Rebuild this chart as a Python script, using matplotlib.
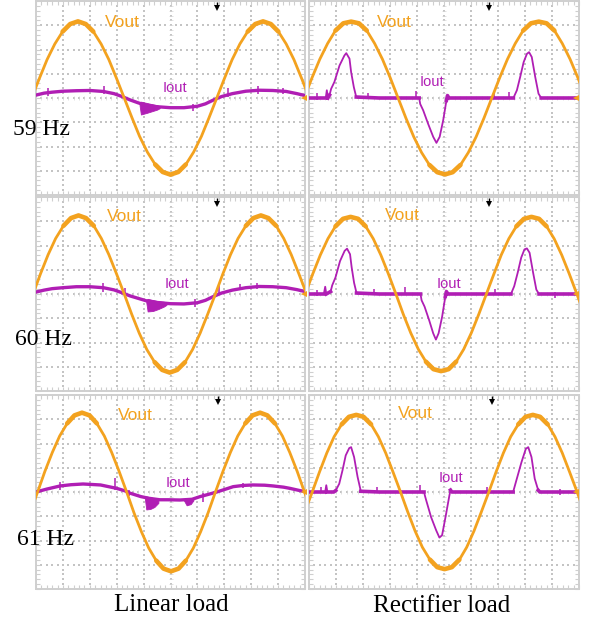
import numpy as np
import matplotlib
matplotlib.use("Agg")
import matplotlib.pyplot as plt

W, H, DPI = 589, 617, 100

ORANGE = "#F3A21F"
PURPLE = "#B01EB4"
GRID = "#C4C4C4"
FRAME = "#CFCFCF"

# ---------------- waveforms (time and amplitude in scope divisions) ----------------
# Vout, linear load
v59_lin_t = [-0.16, 0.13, 0.41, 0.70, 0.99, 1.27, 1.56, 1.85, 2.13, 2.42, 2.71, 2.99, 3.28, 3.57, 3.85, 4.14, 4.43, 4.71, 5.00,
             5.29, 5.57, 5.86, 6.15, 6.43, 6.72, 7.01, 7.29, 7.58, 7.87, 8.15, 8.44, 8.73, 9.01, 9.30, 9.59, 9.87, 10.16]
v59_lin_v = [0.00, 0.82, 1.58, 2.23, 2.74, 3.05, 3.16, 3.05, 2.74, 2.23, 1.58, 0.82, 0.00, -0.82, -1.58, -2.23, -2.74, -3.05, -3.16,
             -3.05, -2.74, -2.23, -1.58, -0.82, 0.00, 0.82, 1.58, 2.23, 2.74, 3.05, 3.16, 3.05, 2.74, 2.23, 1.58, 0.82, 0.00]
v60_lin_t = [-0.11, 0.17, 0.45, 0.73, 1.02, 1.30, 1.58, 1.86, 2.15, 2.43, 2.71, 2.99, 3.28, 3.56, 3.84, 4.12, 4.41, 4.69, 4.97,
             5.25, 5.54, 5.82, 6.10, 6.38, 6.67, 6.95, 7.23, 7.51, 7.80, 8.08, 8.36, 8.64, 8.93, 9.21, 9.49, 9.77, 10.06]
v60_lin_v = [0.00, 0.84, 1.62, 2.29, 2.81, 3.13, 3.24, 3.13, 2.81, 2.29, 1.62, 0.84, 0.00, -0.84, -1.62, -2.29, -2.81, -3.13, -3.24,
             -3.13, -2.81, -2.29, -1.62, -0.84, 0.00, 0.84, 1.62, 2.29, 2.81, 3.13, 3.24, 3.13, 2.81, 2.29, 1.62, 0.84, 0.00]
v61_lin_t = [-0.22, 0.06, 0.33, 0.61, 0.88, 1.16, 1.43, 1.71, 1.99, 2.26, 2.54, 2.81, 3.09, 3.37, 3.64, 3.92, 4.19, 4.47, 4.74, 5.02,
             5.30, 5.57, 5.85, 6.12, 6.40, 6.67, 6.95, 7.23, 7.50, 7.78, 8.05, 8.33, 8.60, 8.88, 9.16, 9.43, 9.71, 9.98, 10.26]
v61_lin_v = [-0.85, 0.00, 0.85, 1.64, 2.31, 2.83, 3.16, 3.27, 3.16, 2.83, 2.31, 1.64, 0.85, 0.00, -0.85, -1.64, -2.31, -2.83, -3.16, -3.27,
             -3.16, -2.83, -2.31, -1.64, -0.85, 0.00, 0.85, 1.64, 2.31, 2.83, 3.16, 3.27, 3.16, 2.83, 2.31, 1.64, 0.85, 0.00, -0.85]

# Vout, rectifier load
v59_rect_t = [-0.18, 0.11, 0.40, 0.69, 0.98, 1.27, 1.56, 1.85, 2.14, 2.43, 2.72, 3.01, 3.30, 3.59, 3.88, 4.17, 4.46, 4.75, 5.04,
              5.32, 5.61, 5.90, 6.19, 6.48, 6.77, 7.06, 7.35, 7.64, 7.93, 8.22, 8.51, 8.80, 9.09, 9.38, 9.67, 9.96, 10.25]
v59_rect_v = [0.00, 0.83, 1.60, 2.25, 2.78, 3.08, 3.15, 3.08, 2.78, 2.25, 1.60, 0.83, 0.00, -0.83, -1.60, -2.25, -2.76, -3.06, -3.15,
              -3.06, -2.76, -2.25, -1.60, -0.83, 0.00, 0.83, 1.60, 2.25, 2.78, 3.08, 3.15, 3.08, 2.78, 2.25, 1.60, 0.83, 0.00]
v60_rect_t = [-0.14, 0.14, 0.42, 0.70, 0.98, 1.26, 1.54, 1.82, 2.10, 2.38, 2.66, 2.94, 3.22, 3.49, 3.77, 4.05, 4.33, 4.61, 4.89,
              5.17, 5.45, 5.73, 6.01, 6.29, 6.57, 6.85, 7.12, 7.40, 7.68, 7.96, 8.24, 8.52, 8.80, 9.08, 9.36, 9.64, 9.92, 10.20]
v60_rect_v = [0.00, 0.83, 1.61, 2.28, 2.79, 3.10, 3.18, 3.10, 2.79, 2.28, 1.61, 0.83, 0.00, -0.83, -1.61, -2.28, -2.79, -3.10, -3.18,
              -3.10, -2.79, -2.28, -1.61, -0.83, 0.00, 0.83, 1.61, 2.28, 2.79, 3.10, 3.18, 3.10, 2.79, 2.28, 1.61, 0.83, 0.00, -0.83]
v61_rect_t = [-0.16, 0.12, 0.39, 0.66, 0.93, 1.21, 1.48, 1.75, 2.02, 2.30, 2.57, 2.84, 3.11, 3.39, 3.66, 3.93, 4.20, 4.48, 4.75, 5.02,
              5.29, 5.57, 5.84, 6.11, 6.38, 6.66, 6.93, 7.20, 7.47, 7.75, 8.02, 8.29, 8.56, 8.84, 9.11, 9.38, 9.65, 9.93, 10.20]
v61_rect_v = [-0.83, 0.00, 0.83, 1.61, 2.28, 2.79, 3.10, 3.18, 3.10, 2.79, 2.28, 1.61, 0.83, 0.00, -0.83, -1.61, -2.28, -2.79, -3.10, -3.18,
              -3.10, -2.79, -2.28, -1.61, -0.83, 0.00, 0.83, 1.61, 2.28, 2.79, 3.10, 3.18, 3.10, 2.79, 2.28, 1.61, 0.83, 0.00, -0.83]

# Iout, linear load
i59_lin_t = [0.0, 0.3, 0.6, 1.0, 1.5, 2.0, 2.5, 2.9, 3.2, 3.5, 3.8, 4.1, 4.5, 5.0, 5.5, 6.0, 6.3, 6.6, 6.9, 7.3, 7.8, 8.3, 8.8, 9.3, 9.7, 10.0]
i59_lin_v = [0.12, 0.20, 0.24, 0.28, 0.30, 0.31, 0.27, 0.18, 0.06, -0.08, -0.20, -0.30, -0.36, -0.40, -0.40, -0.34, -0.24, -0.08, 0.06,
             0.18, 0.28, 0.32, 0.31, 0.27, 0.18, 0.10]
i60_lin_t = [0.0, 0.3, 0.6, 1.0, 1.5, 2.0, 2.5, 2.9, 3.2, 3.5, 3.8, 4.1, 4.5, 5.0, 5.5, 6.0, 6.3, 6.6, 6.9, 7.3, 7.8, 8.3, 8.8, 9.3, 9.7, 10.0]
i60_lin_v = [0.08, 0.16, 0.22, 0.26, 0.30, 0.30, 0.26, 0.17, 0.05, -0.08, -0.18, -0.28, -0.35, -0.40, -0.41, -0.36, -0.26, -0.10, 0.04,
             0.16, 0.26, 0.31, 0.30, 0.26, 0.18, 0.10]
i61_lin_t = [0.0, 0.4, 0.9, 1.3, 1.75, 2.4, 3.0, 3.3, 3.5, 3.9, 4.2, 4.6, 4.9, 5.35, 5.8, 6.1, 6.4, 6.72, 7.0, 7.33, 7.7, 8.07, 8.5,
             8.81, 9.2, 9.44, 9.8, 10.0]
i61_lin_v = [0.0, 0.12, 0.25, 0.30, 0.33, 0.29, 0.15, 0.05, -0.05, -0.19, -0.26, -0.32, -0.32, -0.33, -0.30, -0.19, -0.10, 0.0, 0.10,
             0.22, 0.27, 0.29, 0.28, 0.25, 0.20, 0.15, 0.06, 0.02]

# Iout, rectifier load
i59_rect_t = [0.0, 0.62, 0.66, 0.70, 0.76, 0.82, 0.94, 1.13, 1.31, 1.38, 1.50, 1.56, 1.66, 1.75, 2.6, 3.4, 4.08, 4.12, 4.23, 4.41,
              4.60, 4.72, 4.84, 4.97, 5.09, 5.13, 5.18, 6.0, 7.0, 7.57, 7.70, 7.82, 7.95, 8.07, 8.15, 8.25, 8.38, 8.50, 8.60, 9.4, 10.0]
i59_rect_v = [0.0, 0.0, 0.32, 0.0, 0.12, 0.38, 0.66, 1.34, 1.75, 1.85, 1.62, 1.07, 0.45, 0.04, 0.0, 0.0, 0.0, -0.25, -0.51, -1.06,
              -1.60, -1.85, -1.60, -0.92, -0.10, 0.10, 0.0, 0.0, 0.0, 0.0, 0.32, 0.86, 1.48, 1.82, 1.89, 1.69, 0.86, 0.18, 0.0, 0.0, 0.0]
i60_rect_t = [0.0, 0.55, 0.60, 0.64, 0.80, 0.86, 0.98, 1.15, 1.32, 1.41, 1.52, 1.58, 1.67, 1.76, 2.6, 3.4, 4.13, 4.17, 4.28, 4.45,
              4.60, 4.70, 4.80, 4.93, 5.05, 5.09, 5.14, 6.0, 7.0, 7.48, 7.60, 7.73, 7.86, 7.98, 8.07, 8.17, 8.30, 8.42, 8.52, 9.4, 10.0]
i60_rect_v = [0.0, 0.0, 0.30, 0.0, 0.10, 0.36, 0.68, 1.36, 1.78, 1.87, 1.64, 1.10, 0.46, 0.04, 0.0, 0.0, 0.0, -0.26, -0.52, -1.08,
              -1.62, -1.88, -1.62, -0.94, -0.10, 0.10, 0.0, 0.0, 0.0, 0.0, 0.32, 0.88, 1.50, 1.84, 1.88, 1.70, 0.88, 0.18, 0.0, 0.0, 0.0]
i61_rect_t = [0.0, 0.6, 0.64, 0.68, 0.92, 0.99, 1.12, 1.24, 1.36, 1.49, 1.56, 1.67, 1.80, 1.92, 2.6, 3.4, 4.26, 4.30, 4.34, 4.52,
              4.71, 4.83, 4.93, 5.08, 5.20, 5.24, 5.29, 6.0, 7.0, 7.56, 7.68, 7.87, 8.03, 8.12, 8.24, 8.36, 8.49, 8.55, 9.4, 10.0]
i61_rect_v = [0.0, 0.0, 0.28, 0.0, 0.0, 0.06, 0.34, 0.89, 1.51, 1.81, 1.85, 1.44, 0.62, 0.03, 0.0, 0.0, 0.0, -0.18, -0.34, -1.03,
              -1.58, -1.88, -1.78, -0.89, -0.14, 0.08, 0.0, 0.0, 0.0, 0.0, 0.48, 1.23, 1.78, 1.85, 1.44, 0.55, 0.07, 0.0, 0.0, 0.0]

# Burst of switching noise on the linear-load current (time, lower edge, upper edge)
burst59_t = [3.85, 3.90, 4.10, 4.30, 4.50, 4.60]
burst59_lo = [-0.30, -0.68, -0.62, -0.55, -0.48, -0.42]
burst59_hi = [-0.20, -0.15, -0.20, -0.25, -0.30, -0.34]
burst60_t = [4.10, 4.15, 4.35, 4.55, 4.75, 4.85]
burst60_lo = [-0.35, -0.72, -0.70, -0.62, -0.52, -0.45]
burst60_hi = [-0.25, -0.20, -0.25, -0.30, -0.32, -0.36]
burst61_t = [4.05, 4.10, 4.25, 4.40, 4.55, 5.50, 5.60, 5.75, 5.85]
burst61_lo = [-0.30, -0.72, -0.70, -0.62, -0.45, -0.35, -0.55, -0.50, -0.35]
burst61_hi = [-0.20, -0.18, -0.22, -0.26, -0.30, -0.30, -0.30, -0.30, -0.28]
burst61_gap = 5  # index where the second burst starts

# Isolated spikes (time, low, high)
spk59_lin = [(0.45, 0.10, 0.42), (2.53, 0.15, 0.48), (5.84, -0.55, -0.25), (7.14, 0.05, 0.42), (8.25, 0.18, 0.48), (9.2, 0.18, 0.40)]
spk60_lin = [(2.50, 0.10, 0.45), (3.30, -0.10, 0.25), (5.90, -0.55, -0.20), (6.80, 0.05, 0.35), (7.60, 0.15, 0.42), (8.2, 0.20, 0.45)]
spk61_lin = [(0.89, 0.10, 0.42), (2.94, 0.10, 0.56), (3.45, -0.15, 0.10), (6.22, -0.42, -0.05), (7.70, 0.15, 0.38)]
spk59_rect = [(0.30, -0.10, 0.20), (2.20, -0.05, 0.22), (3.95, 0.00, 0.30), (6.84, -0.05, 0.20), (7.40, 0.00, 0.25)]
spk60_rect = [(0.30, -0.08, 0.18), (2.40, -0.05, 0.20), (3.55, 0.00, 0.28), (6.90, -0.05, 0.22), (9.10, -0.15, 0.10)]
spk61_rect = [(0.45, -0.05, 0.22), (2.50, -0.05, 0.20), (4.10, 0.00, 0.30), (6.60, -0.05, 0.22), (9.30, -0.12, 0.12)]

row_labels = ["59 Hz", "60 Hz", "61 Hz"]
col_labels = ["Linear load", "Rectifier load"]

# ---------------- layout (pixels) ----------------
cols_px = [(36, 305), (309, 579)]
rows_px = [(1, 195), (197, 391), (395, 589)]

fig = plt.figure(figsize=(W / DPI, H / DPI), dpi=DPI)
fig.patch.set_facecolor("white")


def px_text(x, y, s, **kw):
    fig.text(x / W, 1 - y / H, s, **kw)


def scope_axes(col, row):
    x0, x1 = cols_px[col]
    y0, y1 = rows_px[row]
    ax = fig.add_axes([x0 / W, 1 - y1 / H, (x1 - x0) / W, (y1 - y0) / H])
    ax.set_xlim(0, 10)
    ax.set_ylim(-4, 4)
    ax.set_facecolor("white")
    for sp in ax.spines.values():
        sp.set_color(FRAME)
        sp.set_linewidth(1.4)
    ax.set_xticks(np.arange(0, 11, 1))
    ax.set_yticks(np.arange(-4, 5, 1))
    ax.set_xticks(np.arange(0, 10.01, 0.2), minor=True)
    ax.set_yticks(np.arange(-4, 4.01, 0.2), minor=True)
    ax.tick_params(which="both", direction="in", length=3, width=0.8, color=FRAME,
                   top=True, right=True, labelbottom=False, labelleft=False)
    # dotted graticule
    ys = np.arange(-4, 4.01, 0.2)
    xs = np.arange(0, 10.01, 0.2)
    gx = np.repeat(np.arange(1, 10), len(ys))
    gy = np.tile(ys, 9)
    ax.scatter(gx, gy, s=1.2, marker="s", color=GRID, lw=0, zorder=1)
    hy = np.repeat(np.arange(-3, 4), len(xs))
    hx = np.tile(xs, 7)
    ax.scatter(hx, hy, s=1.2, marker="s", color=GRID, lw=0, zorder=1)
    # faint centre-line tick marks
    ax.plot(np.full(len(ys), 5.0), ys, ls="none", marker="_", ms=2.5, mew=0.5, color="#D6D6D6", zorder=1)
    ax.plot(xs, np.zeros(len(xs)), ls="none", marker="|", ms=2.5, mew=0.5, color="#D6D6D6", zorder=1)
    return ax


def draw_vout(ax, t, v):
    t = np.asarray(t)
    v = np.asarray(v)
    ax.plot(t, v, color=ORANGE, lw=2.0, solid_joinstyle="round", solid_capstyle="round", zorder=4)
    peak = np.where(np.abs(v) > 2.7, v, np.nan)
    ax.plot(t, peak, color=ORANGE, lw=3.3, solid_capstyle="round", zorder=4)


def draw_iout_linear(ax, t, v, spikes, bursts):
    ax.plot(t, v, color=PURPLE, lw=2.4, solid_joinstyle="round", zorder=3)
    for bt, lo, hi in bursts:
        ax.fill_between(bt, lo, hi, color=PURPLE, lw=0.6, zorder=3)
    for s in spikes:
        ax.vlines(s[0], s[1], s[2], color=PURPLE, lw=1.1, zorder=3)


def draw_iout_rect(ax, t, v, spikes):
    t = np.asarray(t)
    v = np.asarray(v)
    ax.plot(t, v, color=PURPLE, lw=1.3, solid_joinstyle="round", zorder=3)
    base = np.where(np.abs(v) <= 0.12, v, np.nan)
    ax.plot(t, base, color=PURPLE, lw=2.6, zorder=3)
    for s in spikes:
        ax.vlines(s[0], s[1], s[2], color=PURPLE, lw=1.1, zorder=3)


def trigger_mark(ax, x):
    ax.vlines(x, 3.72, 3.97, color="black", lw=1.0, clip_on=False, zorder=6)
    ax.plot([x], [3.72], marker="v", ms=4, color="black", mew=0, clip_on=False, zorder=6)


def ground_marks(ax):
    ax.plot([-0.2], [0], marker="<", ms=4, color=ORANGE, mew=0, clip_on=False, zorder=6)
    ax.plot([9.9], [0], marker="<", ms=4, color=ORANGE, mew=0, clip_on=False, zorder=6)


vout_lin = [(v59_lin_t, v59_lin_v), (v60_lin_t, v60_lin_v), (v61_lin_t, v61_lin_v)]
vout_rect = [(v59_rect_t, v59_rect_v), (v60_rect_t, v60_rect_v), (v61_rect_t, v61_rect_v)]
iout_lin = [(i59_lin_t, i59_lin_v), (i60_lin_t, i60_lin_v), (i61_lin_t, i61_lin_v)]
iout_rect = [(i59_rect_t, i59_rect_v), (i60_rect_t, i60_rect_v), (i61_rect_t, i61_rect_v)]
spk_lin = [spk59_lin, spk60_lin, spk61_lin]
spk_rect = [spk59_rect, spk60_rect, spk61_rect]
bursts = [
    [(burst59_t, burst59_lo, burst59_hi)],
    [(burst60_t, burst60_lo, burst60_hi)],
    [(burst61_t[:burst61_gap], burst61_lo[:burst61_gap], burst61_hi[:burst61_gap]),
     (burst61_t[burst61_gap:], burst61_lo[burst61_gap:], burst61_hi[burst61_gap:])],
]

trig_lin = [6.73, 6.73, 6.77]
trig_rect = [6.67, 6.67, 6.78]

for r in range(3):
    axl = scope_axes(0, r)
    draw_iout_linear(axl, *iout_lin[r], spk_lin[r], bursts[r])
    draw_vout(axl, *vout_lin[r])
    trigger_mark(axl, trig_lin[r])

    axr = scope_axes(1, r)
    draw_iout_rect(axr, *iout_rect[r], spk_rect[r])
    draw_vout(axr, *vout_rect[r])
    trigger_mark(axr, trig_rect[r])
    ground_marks(axr)

# ---------------- trace labels ----------------
sans = "Liberation Sans"
vout_pos = [(105, 27), (377, 27), (107, 221), (385, 220), (118, 420), (398, 418)]
iout_pos = [(163, 92), (420, 86), (165, 288), (437, 288), (166, 487), (439, 482)]
for (x, y) in vout_pos:
    px_text(x, y, "Vout", color=ORANGE, fontsize=12.5, family=sans, va="baseline", ha="left")
for (x, y) in iout_pos:
    px_text(x, y, "Iout", color=PURPLE, fontsize=10.5, family=sans, va="baseline", ha="left")

serif = "Liberation Serif"
row_pos = [(13, 135), (15, 345), (17, 545)]
for (x, y), s in zip(row_pos, row_labels):
    px_text(x, y, s, color="black", fontsize=17, family=serif, va="baseline", ha="left", zorder=10)

col_pos = [(171, 611), (442, 612)]
for (x, y), s in zip(col_pos, col_labels):
    px_text(x, y, s, color="black", fontsize=18, family=serif, va="baseline", ha="center")

fig.savefig("out.png", dpi=DPI, facecolor="white")
